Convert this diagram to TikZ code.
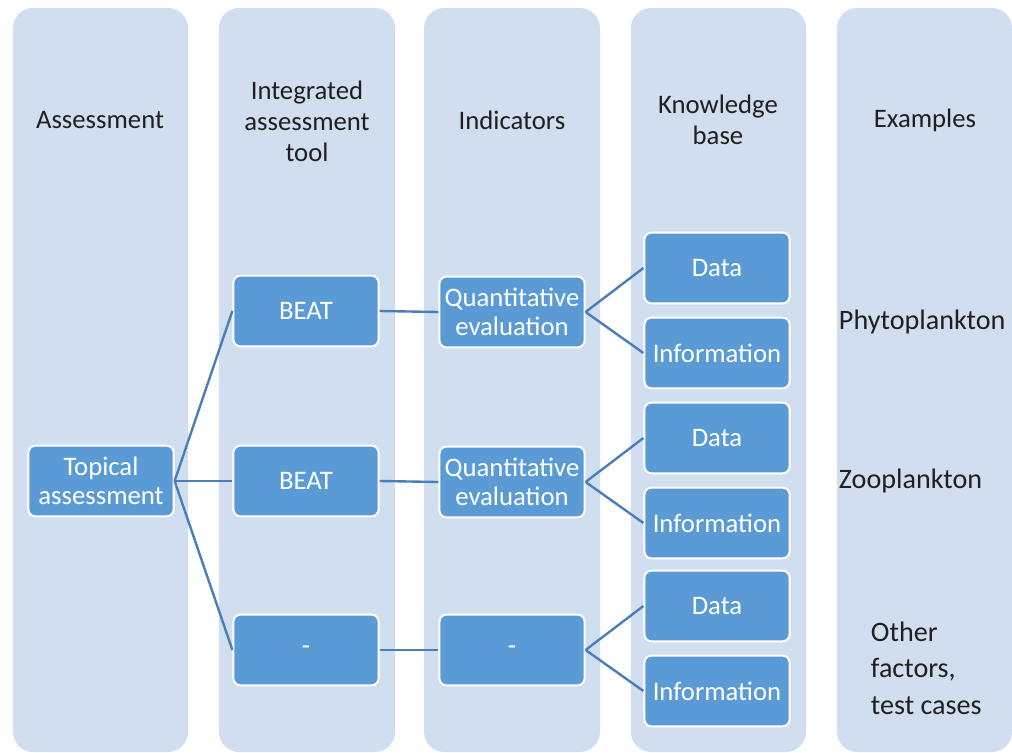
\documentclass[tikz,border=0pt]{standalone}
\usepackage{fontspec}
\setmainfont{Carlito}
\usepackage{tikz}
\usetikzlibrary{positioning}

\definecolor{colbg}{HTML}{D1DEEF}
\definecolor{boxblue}{HTML}{5B9BD5}
\definecolor{linkblue}{HTML}{4A7EBB}

\tikzset{
  column/.style={fill=colbg, rounded corners=0.5cm},
  header/.style={align=center, text=black!88,
    font=\fontsize{19}{22}\selectfont},
  item/.style={draw=white, line width=1.4pt, fill=boxblue,
    rounded corners=0.18cm, text=white, align=center,
    font=\fontsize{19}{21}\selectfont, inner sep=2pt,
    minimum width=3.63cm, minimum height=1.77cm},
  link/.style={draw=linkblue, line width=1.7pt},
  example/.style={anchor=west, align=left, text=black!88,
    font=\fontsize{20}{26}\selectfont}
}

\begin{document}
\begin{tikzpicture}[x=0.025cm, y=-0.025cm]

    \useasboundingbox (0,0) rectangle (1012,753);

    % columns
    \foreach \xl/\xr in {13/188, 219/395, 424/600, 631/806, 837/1012}
      \fill [column] (\xl,8) rectangle (\xr,752);

    % headers
    \node [header] (hassess) at (100,120) {Assessment};
    \node [header] (htool) at (307,121) {Integrated\\assessment\\tool};
    \node [header] (hind) at (512,120) {Indicators};
    \node [header] (hknow) at (718,120) {Knowledge\\base};
    \node [header] (hexam) at (925,120) {Examples};

    % boxes
    \node [item] (topical) at (101,481) {Topical\\assessment};

    \node [item] (beat1) at (306,311) {BEAT};
    \node [item] (beat2) at (306,481) {BEAT};
    \node [item] (tool3) at (306,650) {-};

    \node [item] (quant1) at (512,312) {Quantitative\\evaluation};
    \node [item] (quant2) at (512,482) {Quantitative\\evaluation};
    \node [item] (ind3) at (512,650) {-};

    \node [item] (data1) at (717,268) {Data};
    \node [item] (info1) at (717,353) {Information};
    \node [item] (data2) at (717,438) {Data};
    \node [item] (info2) at (717,523) {Information};
    \node [item] (data3) at (717,606) {Data};
    \node [item] (info3) at (717,691) {Information};

    % connectors
    \foreach \t in {beat1, beat2, tool3}
      \draw [link] (topical.east) -- (\t.west);

    \draw [link] (beat1.east) -- (quant1.west);
    \draw [link] (beat2.east) -- (quant2.west);
    \draw [link] (tool3.east) -- (ind3.west);

    \foreach \s/\a/\b in {quant1/data1/info1, quant2/data2/info2, ind3/data3/info3} {
      \draw [link] (\s.east) -- (\a.west);
      \draw [link] (\s.east) -- (\b.west);
    }

    % examples
    \node [example] (phyto) at (834,322) {Phytoplankton};
    \node [example] (zoo) at (834,481) {Zooplankton};
    \node [example] (other) at (866,668) {Other\\factors,\\test cases};

  \end{tikzpicture}
\end{document}
